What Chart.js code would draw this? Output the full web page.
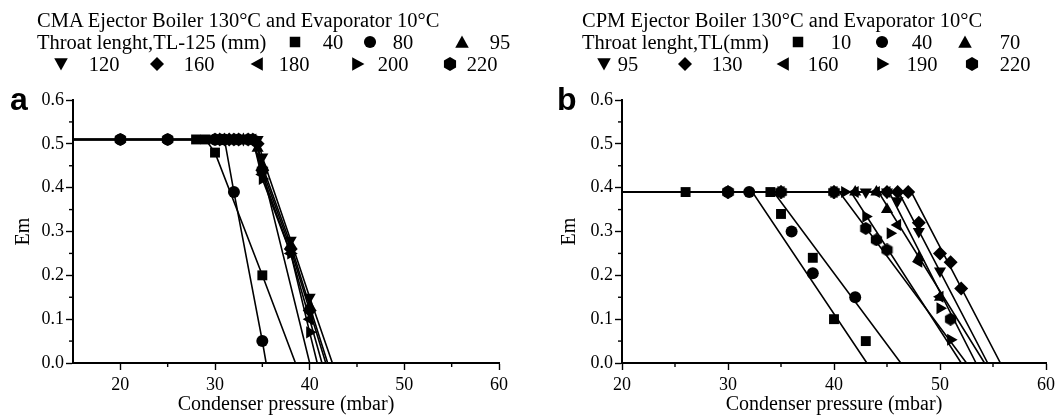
<!DOCTYPE html>
<html lang="en">
<head>
  <meta charset="UTF-8" />
  <title>Em vs condenser pressure</title>
  <script src="https://cdn.jsdelivr.net/npm/chart.js"></script>
  <style>
    body { margin: 0; width: 1059px; height: 417px; position: relative; background: #fff; overflow: hidden; font-family: 'Liberation Serif', serif; }
    .panel { position: absolute; top: 0; height: 417px; }
    .row { position: absolute; font-size: 20.5px; line-height: 22px; height: 22px; white-space: nowrap; color: #000; }
    .item { position: absolute; font-size: 20.5px; line-height: 22px; transform: translateX(-50%); white-space: nowrap; }
    .sym { position: absolute; width: 14px; height: 14px; transform: translate(-50%, -50%); }
    .letter { position: absolute; font-family: 'Liberation Sans', sans-serif; font-weight: bold; font-size: 32px; line-height: 32px; }
  </style>
</head>
<body>

  <div class="panel" style="left:0;width:530px"><canvas id="chartA"></canvas></div>
  <div class="panel" style="left:530px;width:529px"><canvas id="chartB"></canvas></div>
  <div class="letter" style="left:10px;top:83px">a</div>
  <div class="letter" style="left:557px;top:83px">b</div>
  <div id="legend"></div>

  <script>
    // ---- panel a : CMA ejector ----
    const tlA = [40, 80, 95, 120, 160, 180, 200, 220];
    const a40  = [[28, 0.51], [29, 0.51], [30, 0.48], [35, 0.20]];
    const a80  = [[20, 0.51], [25, 0.51], [30, 0.51], [31, 0.51], [32, 0.39], [35, 0.05]];
    const a95  = [[30, 0.51], [31, 0.51], [32, 0.51], [33, 0.51], [34, 0.51], [34.5, 0.49], [35, 0.45], [38, 0.27], [40, 0.13]];
    const a120 = [[31, 0.51], [32, 0.51], [33, 0.51], [34, 0.51], [34.5, 0.51], [35, 0.47], [38, 0.28], [40, 0.15]];
    const a160 = [[30.5, 0.51], [31.5, 0.51], [32.5, 0.51], [33.5, 0.51], [34.5, 0.50], [35, 0.44], [38, 0.26], [40, 0.12]];
    const a180 = [[32, 0.51], [33, 0.51], [34, 0.51], [35, 0.43], [38, 0.25], [40, 0.10]];
    const a200 = [[31, 0.51], [33, 0.51], [34, 0.51], [35, 0.42], [38, 0.25], [40, 0.07]];
    const a220 = [[20, 0.51], [25, 0.51], [30, 0.51], [32, 0.51], [34, 0.51], [35, 0.44]];
    // lines drawn through the points, extended to Em = 0
    const a40Line  = [[15, 0.51], [29, 0.51], [30, 0.48], [35, 0.20], [38.5, 0]];
    const a80Line  = [[15, 0.51], [31, 0.51], [32, 0.39], [35, 0.05], [35.4, 0]];
    const a95Line  = [[15, 0.51], [34, 0.51], [34.5, 0.49], [35, 0.45], [38, 0.27], [40, 0.13], [41.9, 0]];
    const a120Line = [[15, 0.51], [34.5, 0.51], [35, 0.47], [38, 0.28], [40, 0.15], [42.4, 0]];
    const a160Line = [[15, 0.51], [33.5, 0.51], [34.5, 0.50], [35, 0.44], [38, 0.26], [40, 0.12], [41.7, 0]];
    const a180Line = [[15, 0.51], [34, 0.51], [35, 0.43], [38, 0.25], [40, 0.10], [41.3, 0]];
    const a200Line = [[15, 0.51], [34, 0.51], [35, 0.42], [38, 0.25], [40, 0.07], [40.8, 0]];
    const a220Line = [[15, 0.51], [34, 0.51], [35, 0.44], [40.0, 0]];

    // ---- panel b : CPM ejector ----
    const tlB = [10, 40, 70, 95, 130, 160, 190, 220];
    const b10  = [[26, 0.39], [34, 0.39], [35, 0.34], [38, 0.24], [40, 0.10], [43, 0.05]];
    const b40  = [[30, 0.39], [32, 0.39], [36, 0.30], [38, 0.205], [42, 0.15]];
    const b70  = [[30, 0.39], [35, 0.39], [40, 0.39], [42, 0.39], [44, 0.39], [45, 0.35], [48, 0.24], [50, 0.15]];
    const b95  = [[30, 0.39], [35, 0.39], [40, 0.39], [43, 0.39], [45, 0.39], [46, 0.37], [48, 0.30], [50, 0.21]];
    const b130 = [[30, 0.39], [35, 0.39], [40, 0.39], [45, 0.39], [46, 0.39], [47, 0.39], [48, 0.32], [50, 0.25], [51, 0.23], [52, 0.17]];
    const b160 = [[35, 0.39], [40, 0.39], [42, 0.39], [44, 0.39], [45, 0.39], [46, 0.315], [48, 0.231], [50, 0.151]];
    const b190 = [[35, 0.39], [40, 0.39], [41, 0.39], [43, 0.334], [45.3, 0.296], [50, 0.125], [51, 0.053]];
    const b220 = [[30, 0.39], [35, 0.39], [40, 0.39], [43, 0.307], [44, 0.281], [45, 0.258], [51, 0.10]];
    // fitted lines: plateau then straight drop
    const b10Line  = [[20, 0.39], [34.3, 0.39], [46.3, 0]];
    const b40Line  = [[20, 0.39], [32.3, 0.39], [43.1, 0]];
    const b70Line  = [[20, 0.39], [44.2, 0.39], [54.2, 0]];
    const b95Line  = [[20, 0.39], [46.1, 0.39], [54.5, 0]];
    const b130Line = [[20, 0.39], [47.3, 0.39], [55.7, 0]];
    const b160Line = [[20, 0.39], [45.2, 0.39], [53.4, 0]];
    const b190Line = [[20, 0.39], [41.6, 0.39], [52.0, 0]];
    const b220Line = [[20, 0.39], [40.5, 0.39], [52.5, 0]];

    const xTicks = [20, 30, 40, 50, 60];
    const yTicks = [0.0, 0.1, 0.2, 0.3, 0.4, 0.5, 0.6];

    // marker shapes, same order for both panels
    const shapes = ['square', 'circle', 'up', 'down', 'diamond', 'left', 'right', 'hex'];

    function hexCanvas(size) {
      const c = document.createElement('canvas');
      c.width = size; c.height = size;
      const g = c.getContext('2d');
      const r = size / 2;
      g.fillStyle = '#000';
      g.beginPath();
      for (let i = 0; i < 6; i++) {
        const a = Math.PI / 3 * i - Math.PI / 2;
        const px = r + r * Math.cos(a), py = r + r * Math.sin(a);
        if (i === 0) g.moveTo(px, py); else g.lineTo(px, py);
      }
      g.closePath();
      g.fill();
      return c;
    }
    const hexImg = hexCanvas(13);

    function pointOpts(shape) {
      switch (shape) {
        case 'square':  return { pointStyle: 'rect', pointRadius: 7, rotation: 0 };
        case 'circle':  return { pointStyle: 'circle', pointRadius: 6, rotation: 0 };
        case 'up':      return { pointStyle: 'triangle', pointRadius: 7, rotation: 0 };
        case 'down':    return { pointStyle: 'triangle', pointRadius: 7, rotation: 180 };
        case 'left':    return { pointStyle: 'triangle', pointRadius: 7, rotation: 270 };
        case 'right':   return { pointStyle: 'triangle', pointRadius: 7, rotation: 90 };
        case 'diamond': return { pointStyle: 'rectRot', pointRadius: 7, rotation: 0 };
        case 'hex':     return { pointStyle: hexImg, pointRadius: 7, rotation: 0 };
      }
    }

    function toXY(arr) { return arr.map(p => ({ x: p[0], y: p[1] })); }

    function buildDatasets(tl, pts, lines) {
      const ds = [];
      lines.forEach(l => ds.push({
        data: toXY(l), showLine: true, borderColor: '#000', borderWidth: 1.6,
        pointRadius: 0, fill: false
      }));
      pts.forEach((p, i) => {
        const po = pointOpts(shapes[i]);
        ds.push({
          label: String(tl[i]), data: toXY(p), showLine: false,
          backgroundColor: '#000', borderColor: '#000', borderWidth: 0,
          pointStyle: po.pointStyle, pointRadius: po.pointRadius, rotation: po.rotation
        });
      });
      return ds;
    }

    const isMajorX = v => Math.abs(v % 10) < 1e-6;
    const isMajorY = v => Math.abs(Math.round(v * 20) % 2) === 0;

    const minorTicks = {
      id: 'minorTicks',
      afterDraw(chart) {
        const ctx = chart.ctx, xs = chart.scales.x, ys = chart.scales.y;
        ctx.save();
        ctx.strokeStyle = '#000';
        ctx.lineWidth = 1.4;
        xs.ticks.forEach(t => {
          if (isMajorX(t.value) || t.value === xs.min) return;
          const px = xs.getPixelForValue(t.value);
          ctx.beginPath(); ctx.moveTo(px, xs.top); ctx.lineTo(px, xs.top + 4); ctx.stroke();
        });
        ys.ticks.forEach(t => {
          if (isMajorY(t.value)) return;
          const py = ys.getPixelForValue(t.value);
          ctx.beginPath(); ctx.moveTo(ys.right, py); ctx.lineTo(ys.right - 4, py); ctx.stroke();
        });
        ctx.restore();
      }
    };

    function makeChart(id, tl, pts, lines, xMin, yLeft, yWidth, padRight) {
      const tickFont = { family: 'Liberation Serif', size: 18 };
      const titleFont = { family: 'Liberation Serif', size: 20 };
      return new Chart(document.getElementById(id), {
        type: 'scatter',
        data: { datasets: buildDatasets(tl, pts, lines) },
        options: {
          responsive: true,
          maintainAspectRatio: false,
          animation: false,
          layout: { padding: { left: yLeft, top: 100, right: padRight, bottom: 0 } },
          plugins: { legend: { display: false }, tooltip: { enabled: false } },
          scales: {
            x: {
              type: 'linear', min: xMin, max: 60,
              afterFit: s => { s.height = 54; },
              border: { color: '#000', width: 2 },
              grid: {
                drawOnChartArea: false, drawTicks: true, tickLength: 7, tickWidth: 1.4,
                tickColor: c => (c.tick && isMajorX(c.tick.value)) ? '#000' : 'rgba(0,0,0,0)'
              },
              ticks: {
                stepSize: 5, autoSkip: false, maxRotation: 0, color: '#000', font: tickFont, padding: 4,
                callback: v => xTicks.includes(v) ? String(v) : ''
              },
              title: { display: true, text: 'Condenser pressure (mbar)', color: '#000', font: titleFont, padding: { top: 0, bottom: 0 } }
            },
            y: {
              type: 'linear', min: 0, max: 0.6,
              afterFit: s => { s.width = yWidth; },
              border: { color: '#000', width: 2 },
              grid: {
                drawOnChartArea: false, drawTicks: true, tickLength: 7, tickWidth: 1.4,
                tickColor: c => (c.tick && isMajorY(c.tick.value)) ? '#000' : 'rgba(0,0,0,0)'
              },
              ticks: {
                stepSize: 0.05, autoSkip: false, color: '#000', font: tickFont, padding: 2,
                callback: v => {
                  const hit = yTicks.find(t => Math.abs(t - v) < 1e-6);
                  return hit === undefined ? '' : hit.toFixed(1);
                }
              },
              title: { display: true, text: 'Em', color: '#000', font: titleFont, padding: { top: 4, bottom: 4 } }
            }
          }
        },
        plugins: [minorTicks]
      });
    }

    makeChart('chartA', tlA,
      [a40, a80, a95, a120, a160, a180, a200, a220],
      [a40Line, a80Line, a95Line, a120Line, a160Line, a180Line, a200Line, a220Line],
      15, 8, 65, 31);
    makeChart('chartB', tlB,
      [b10, b40, b70, b95, b130, b160, b190, b220],
      [b10Line, b40Line, b70Line, b95Line, b130Line, b160Line, b190Line, b220Line],
      20, 24, 68, 12);

    // ---- legend text above each panel ----
    function svgMarker(shape) {
      const body = {
        square: '<rect x="1.5" y="1.5" width="9" height="9"/>',
        circle: '<circle cx="6" cy="6" r="5.2"/>',
        up: '<polygon points="6,0.5 11.8,11 0.2,11"/>',
        down: '<polygon points="0.2,1 11.8,1 6,11.5"/>',
        left: '<polygon points="11,0.2 11,11.8 0.5,6"/>',
        right: '<polygon points="1,0.2 1,11.8 11.5,6"/>',
        diamond: '<polygon points="6,0 12,6 6,12 0,6"/>',
        hex: '<polygon points="6,0 11.2,3 11.2,9 6,12 0.8,9 0.8,3"/>'
      }[shape];
      return '<svg viewBox="0 0 12 12" width="14" height="14">' + body + '</svg>';
    }

    function addLegend(left, line1, line2, tl, symX, numX) {
      const host = document.getElementById('legend');
      const r1 = document.createElement('div');
      r1.className = 'row'; r1.style.left = left + 'px'; r1.style.top = '9px';
      r1.textContent = line1;
      host.appendChild(r1);
      const r2 = document.createElement('div');
      r2.className = 'row'; r2.style.left = left + 'px'; r2.style.top = '31px';
      r2.textContent = line2;
      host.appendChild(r2);
      tl.forEach((v, i) => {
        const top = i < 3 ? 31 : 53;
        const cy = i < 3 ? 42 : 64;
        const s = document.createElement('div');
        s.className = 'sym'; s.style.left = symX[i] + 'px'; s.style.top = cy + 'px';
        s.innerHTML = svgMarker(shapes[i]);
        host.appendChild(s);
        const n = document.createElement('div');
        n.className = 'item'; n.style.left = numX[i] + 'px'; n.style.top = top + 'px';
        n.textContent = String(v);
        host.appendChild(n);
      });
    }

    addLegend(37, 'CMA Ejector Boiler 130°C and Evaporator 10°C', 'Throat lenght,TL-125 (mm)', tlA,
      [295, 370, 462, 61, 157, 257, 358, 450], [333, 403, 500, 104, 199, 294, 393, 482]);
    addLegend(582, 'CPM Ejector Boiler 130°C and Evaporator 10°C', 'Throat lenght,TL(mm)', tlB,
      [798, 882, 965, 604, 685, 783, 883, 972], [841, 922, 1010, 628, 727, 823, 922, 1015]);
  </script>
</body>
</html>
